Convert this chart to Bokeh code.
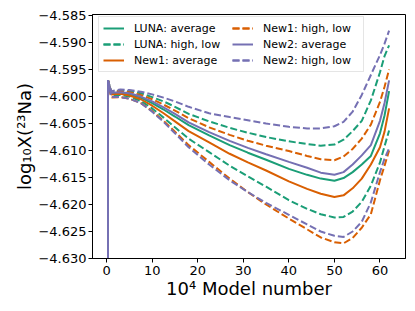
from bokeh.plotting import figure
from bokeh.models import Range1d, FixedTicker, CustomJSTickFormatter, Legend, LegendItem
from bokeh.embed import file_html
from bokeh.resources import INLINE

# x in units of 10^4 models
x = [0.3, 0.3, 1, 3, 5, 7.5, 10, 12.5, 15, 18, 22.5, 27, 31, 35, 40, 44, 47, 50, 52, 54, 56, 58, 60, 61, 62]

luna_avg = [-4.64, -4.597, -4.5994, -4.5993, -4.5996, -4.6002, -4.6012, -4.6024, -4.6037, -4.6053, -4.6072, -4.6090, -4.6104, -4.6117, -4.6134, -4.6145, -4.6152, -4.6156, -4.6151, -4.6140, -4.6126, -4.6110, -4.6068, -4.6035, -4.5990]
luna_high = [-4.64, -4.597, -4.5991, -4.5989, -4.5990, -4.5994, -4.6001, -4.6009, -4.6019, -4.6032, -4.6046, -4.6058, -4.6067, -4.6075, -4.6083, -4.6088, -4.6091, -4.6089, -4.6080, -4.6064, -4.6045, -4.6007, -4.5955, -4.5925, -4.5905]
luna_low = [-4.64, -4.597, -4.5998, -4.5997, -4.6000, -4.6008, -4.6022, -4.6039, -4.6057, -4.6078, -4.6103, -4.6128, -4.6148, -4.6167, -4.6192, -4.6208, -4.6218, -4.6224, -4.6223, -4.6213, -4.6195, -4.6165, -4.6122, -4.6092, -4.6063]

new1_avg = [-4.64, -4.597, -4.5996, -4.5995, -4.5998, -4.6005, -4.6017, -4.6031, -4.6046, -4.6064, -4.6085, -4.6106, -4.6122, -4.6137, -4.6157, -4.6171, -4.6180, -4.6186, -4.6183, -4.6170, -4.6152, -4.6126, -4.6094, -4.6065, -4.6022]
new1_high = [-4.64, -4.597, -4.5992, -4.5990, -4.5992, -4.5997, -4.6005, -4.6015, -4.6026, -4.6040, -4.6057, -4.6071, -4.6082, -4.6091, -4.6101, -4.6110, -4.6116, -4.6118, -4.6111, -4.6097, -4.6078, -4.6052, -4.6010, -4.5982, -4.5950]
new1_low = [-4.64, -4.597, -4.6002, -4.6001, -4.6004, -4.6012, -4.6027, -4.6045, -4.6065, -4.6090, -4.6121, -4.6152, -4.6177, -4.6200, -4.6226, -4.6246, -4.6261, -4.6270, -4.6272, -4.6262, -4.6243, -4.6218, -4.6155, -4.6128, -4.6100]

new2_avg = [-4.64, -4.597, -4.5993, -4.5992, -4.5994, -4.6000, -4.6009, -4.6020, -4.6032, -4.6048, -4.6066, -4.6082, -4.6095, -4.6107, -4.6121, -4.6132, -4.6141, -4.6145, -4.6140, -4.6126, -4.6109, -4.6090, -4.6045, -4.6012, -4.5970]
new2_high = [-4.64, -4.597, -4.5990, -4.5987, -4.5988, -4.5991, -4.5996, -4.6002, -4.6009, -4.6019, -4.6031, -4.6038, -4.6044, -4.6050, -4.6056, -4.6059, -4.6059, -4.6055, -4.6047, -4.6028, -4.5997, -4.5960, -4.5923, -4.5902, -4.5878]
new2_low = [-4.64, -4.597, -4.6001, -4.6001, -4.6004, -4.6012, -4.6028, -4.6047, -4.6068, -4.6094, -4.6126, -4.6155, -4.6177, -4.6197, -4.6219, -4.6237, -4.6250, -4.6258, -4.6260, -4.6250, -4.6232, -4.6196, -4.6140, -4.6115, -4.6096]

x_ticks = [0, 10, 20, 30, 40, 50, 60]
y_ticks = [-4.630, -4.625, -4.620, -4.615, -4.610, -4.605, -4.600, -4.595, -4.590, -4.585]

GREEN = "#1b9e77"
ORANGE = "#d95f02"
PURPLE = "#7570b3"
FONT = "DejaVu Sans"

p = figure(width=407, height=308, output_backend="svg", toolbar_location=None,
           x_range=Range1d(-3.1, 65.6), y_range=Range1d(-4.630, -4.5848),
           min_border_left=92, min_border_right=2, min_border_top=14, min_border_bottom=50)

p.outline_line_color = "black"
p.outline_line_width = 1
p.xgrid.visible = False
p.ygrid.visible = False

lw = 2
dash = "7 3"
r_la = p.line(x, luna_avg, color=GREEN, line_width=lw)
r_lh = p.line(x, luna_high, color=GREEN, line_width=lw, line_dash=dash)
r_ll = p.line(x, luna_low, color=GREEN, line_width=lw, line_dash=dash)
r_1a = p.line(x, new1_avg, color=ORANGE, line_width=lw)
r_1h = p.line(x, new1_high, color=ORANGE, line_width=lw, line_dash=dash)
r_1l = p.line(x, new1_low, color=ORANGE, line_width=lw, line_dash=dash)
r_2a = p.line(x, new2_avg, color=PURPLE, line_width=lw)
r_2h = p.line(x, new2_high, color=PURPLE, line_width=lw, line_dash=dash)
r_2l = p.line(x, new2_low, color=PURPLE, line_width=lw, line_dash=dash)

legend = Legend(items=[
    LegendItem(label="LUNA: average", renderers=[r_la]),
    LegendItem(label="LUNA: high, low", renderers=[r_lh, r_ll]),
    LegendItem(label="New1: average", renderers=[r_1a]),
    LegendItem(label="New1: high, low", renderers=[r_1h, r_1l]),
    LegendItem(label="New2: average", renderers=[r_2a]),
    LegendItem(label="New2: high, low", renderers=[r_2h, r_2l]),
], location=(6, 186), ncols=2)
legend.label_text_font = FONT
legend.label_text_font_size = "11px"
legend.label_text_color = "black"
legend.label_height = 14
legend.label_width = 96
legend.glyph_height = 14
legend.glyph_width = 21
legend.label_standoff = 10
legend.spacing = 2
legend.padding = 4
legend.margin = 0
legend.border_line_color = "#cccccc"
legend.background_fill_alpha = 0.8
p.add_layout(legend)

for ax in (p.xaxis[0], p.yaxis[0]):
    ax.major_label_text_font = FONT
    ax.major_label_text_font_size = "13px"
    ax.axis_label_text_font = FONT
    ax.axis_label_text_font_size = "18px"
    ax.axis_label_text_font_style = "normal"
    ax.axis_label_text_color = "black"
    ax.minor_tick_line_color = None
    ax.major_tick_out = 4
    ax.major_tick_in = 0
    ax.axis_line_color = "black"
    ax.major_tick_line_color = "black"
    ax.major_label_text_color = "black"

p.xaxis.ticker = FixedTicker(ticks=x_ticks)
p.yaxis.ticker = FixedTicker(ticks=y_ticks)
p.yaxis.formatter = CustomJSTickFormatter(code="return (tick < 0 ? '\u2212' : '') + Math.abs(tick).toFixed(3);")
p.xaxis.axis_label = "10\u2074 Model number"
p.yaxis.axis_label = "log\u2081\u2080X(\u00b2\u00b3Na)"
p.yaxis.axis_label_standoff = 0
p.xaxis.axis_label_standoff = 0
p.yaxis.major_label_standoff = 2
p.xaxis.major_label_standoff = 3

open("out.html", "w").write(file_html(p, INLINE))
